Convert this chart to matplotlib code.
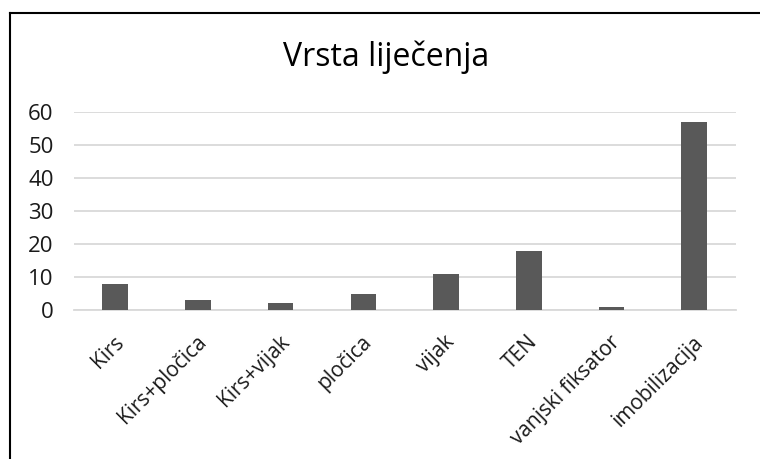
import matplotlib.pyplot as plt
import matplotlib.transforms as mtransforms
import numpy as np
from matplotlib.lines import Line2D

categories = ['Kirs', 'Kirs+pločica', 'Kirs+vijak', 'pločica', 'vijak', 'TEN',
              'vanjski fiksator', 'imobilizacija']
values = [8, 3, 2, 5, 11, 18, 1, 57]
yticks = [0, 10, 20, 30, 40, 50, 60]

plt.rcParams['font.family'] = ['Open Sans', 'DejaVu Sans']

fig = plt.figure(figsize=(7.6, 4.59), dpi=100)
ax = fig.add_axes([0.097, 0.3246, 0.871, 0.4314])

x = np.arange(len(categories))
ax.bar(x, values, width=0.31, color='#595959', zorder=3)

ax.set_xlim(-0.5, len(categories) - 0.5)
ax.set_ylim(0, 60)
ax.set_yticks(yticks)
ax.set_yticklabels([str(t) for t in yticks], fontsize=16, color='#1a1a1a')
ax.set_xticks(x)
ax.set_xticklabels(categories, rotation=45, ha='right', va='center',
                   rotation_mode='anchor', fontsize=15, color='#1a1a1a')
ax.tick_params(axis='both', length=0)
ax.tick_params(axis='y', pad=14.5)
ax.tick_params(axis='x', pad=21)

# nudge the rotated labels a little to the right, as in the reference
shift = mtransforms.ScaledTranslation(4 / 72, 0, fig.dpi_scale_trans)
for lbl in ax.get_xticklabels():
    lbl.set_transform(lbl.get_transform() + shift)

ax.grid(axis='y', color='#d9d9d9', linewidth=1.3, zorder=0)
for s in ['top', 'right', 'left']:
    ax.spines[s].set_visible(False)
ax.spines['bottom'].set_color('#d9d9d9')
ax.spines['bottom'].set_linewidth(1.3)

fig.text(0.508, 0.876, 'Vrsta liječenja', ha='center', va='center', fontsize=23)

# border lines (top and left) of the chart frame
fig.add_artist(Line2D([10 / 760, 1], [1 - 13 / 459, 1 - 13 / 459], color='black', lw=1.5))
fig.add_artist(Line2D([10 / 760, 10 / 760], [0, 1 - 13 / 459], color='black', lw=1.5))

fig.savefig('out.png', dpi=100)
